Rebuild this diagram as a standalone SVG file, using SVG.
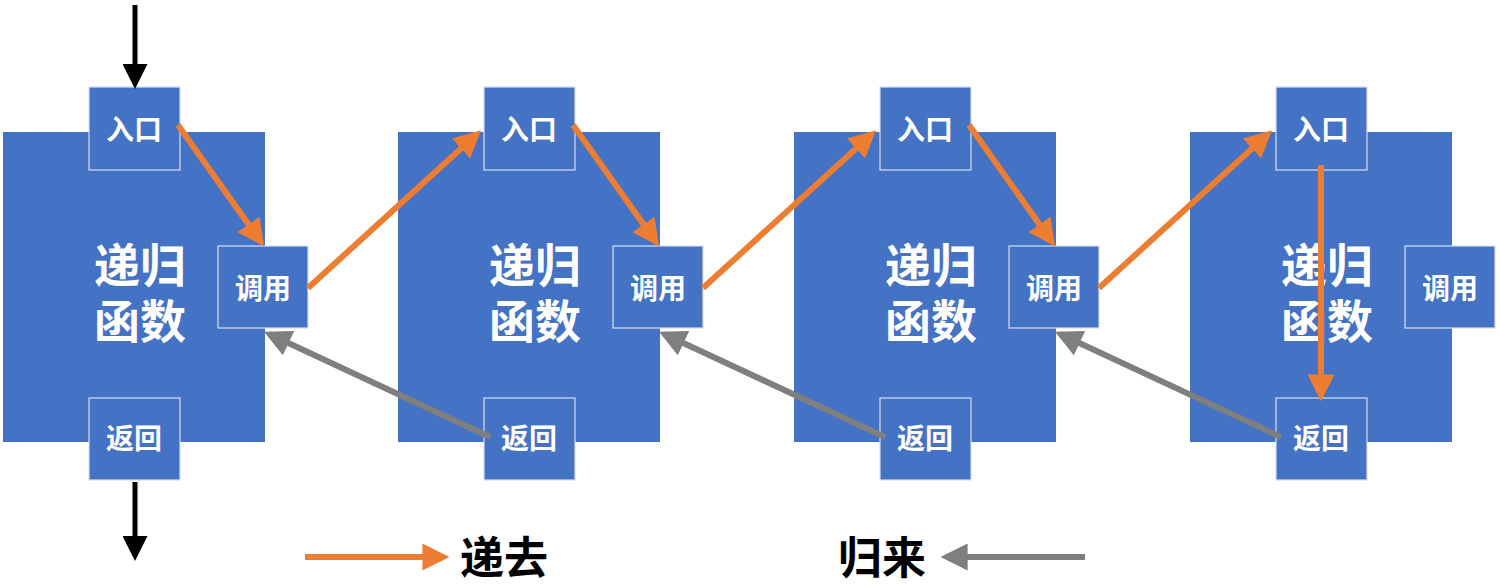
<svg xmlns="http://www.w3.org/2000/svg" width="1500" height="588" viewBox="0 0 1500 588">
<defs>
<style>
.big{fill:#4472C4}
.sm{fill:#4472C4;stroke:#D6E0F2;stroke-width:1.2}
.t{font-family:"Noto Sans CJK SC",sans-serif;font-weight:bold;fill:#fff;text-anchor:middle;dominant-baseline:central}
.s{font-size:28px}
.l{font-size:46px}
.o{stroke:#ED7D31;stroke-width:6;fill:none;marker-end:url(#ao)}
.g{stroke:#7F7F7F;stroke-width:6;fill:none;marker-end:url(#ag)}
.k{stroke:#000;stroke-width:5;fill:none;marker-end:url(#ak)}
.leg{font-family:"Noto Sans CJK SC",sans-serif;font-weight:bold;font-size:44px;fill:#000;dominant-baseline:central}
</style>
<marker id="ao" viewBox="0 0 10 10" refX="8" refY="5" markerWidth="4.5" markerHeight="4.5" orient="auto"><path d="M0,0L10,5L0,10z" fill="#ED7D31"/></marker>
<marker id="ag" viewBox="0 0 10 10" refX="8" refY="5" markerWidth="4.5" markerHeight="4.5" orient="auto"><path d="M0,0L10,5L0,10z" fill="#7F7F7F"/></marker>
<marker id="ak" viewBox="0 0 10 10" refX="8" refY="5" markerWidth="5" markerHeight="5" orient="auto"><path d="M0,0L10,5L0,10z" fill="#000"/></marker>
</defs>
<rect width="1500" height="588" fill="#fff"/>
<g id="f1" transform="translate(0,0)">
<rect class="big" x="3" y="132" width="262" height="310"/>
<text class="t l" x="140" y="262">递归</text><text class="t l" x="140" y="318">函数</text>
<rect class="sm" x="89" y="87" width="91" height="83"/><text class="t s" x="134" y="128">入口</text>
<rect class="sm" x="218" y="246" width="90" height="82"/><text class="t s" x="263" y="287">调用</text>
<rect class="sm" x="89" y="398" width="91" height="82"/><text class="t s" x="134" y="437">返回</text>
</g>
<g id="f2" transform="translate(395,0)">
<rect class="big" x="3" y="132" width="262" height="310"/>
<text class="t l" x="140" y="262">递归</text><text class="t l" x="140" y="318">函数</text>
<rect class="sm" x="89" y="87" width="91" height="83"/><text class="t s" x="134" y="128">入口</text>
<rect class="sm" x="218" y="246" width="90" height="82"/><text class="t s" x="263" y="287">调用</text>
<rect class="sm" x="89" y="398" width="91" height="82"/><text class="t s" x="134" y="437">返回</text>
</g>
<g id="f3" transform="translate(791,0)">
<rect class="big" x="3" y="132" width="262" height="310"/>
<text class="t l" x="140" y="262">递归</text><text class="t l" x="140" y="318">函数</text>
<rect class="sm" x="89" y="87" width="91" height="83"/><text class="t s" x="134" y="128">入口</text>
<rect class="sm" x="218" y="246" width="90" height="82"/><text class="t s" x="263" y="287">调用</text>
<rect class="sm" x="89" y="398" width="91" height="82"/><text class="t s" x="134" y="437">返回</text>
</g>
<g id="f4" transform="translate(1187,0)">
<rect class="big" x="3" y="132" width="262" height="310"/>
<text class="t l" x="140" y="262">递归</text><text class="t l" x="140" y="318">函数</text>
<rect class="sm" x="89" y="87" width="91" height="83"/><text class="t s" x="134" y="128">入口</text>
<rect class="sm" x="218" y="246" width="90" height="82"/><text class="t s" x="263" y="287">调用</text>
<rect class="sm" x="89" y="398" width="91" height="82"/><text class="t s" x="134" y="437">返回</text>
</g>
<g id="connectors">
<line class="k" x1="135" y1="5" x2="135" y2="84"/>
<line class="k" x1="135" y1="482" x2="135" y2="556"/>
<line class="o" x1="178" y1="125" x2="261" y2="242"/>
<line class="o" x1="308" y1="288" x2="477" y2="134"/>
<line class="g" x1="490" y1="437" x2="269" y2="334"/>
<line class="o" x1="573" y1="125" x2="656" y2="242"/>
<line class="o" x1="703" y1="288" x2="872" y2="134"/>
<line class="g" x1="885" y1="437" x2="664" y2="334"/>
<line class="o" x1="969" y1="125" x2="1052" y2="242"/>
<line class="o" x1="1099" y1="288" x2="1268" y2="134"/>
<line class="g" x1="1281" y1="437" x2="1060" y2="334"/>
<line class="o" x1="1321" y1="165" x2="1321" y2="396"/>
</g>
<g id="legend">
<line class="o" x1="305" y1="557" x2="444" y2="557"/>
<text class="leg" x="460" y="555">递去</text>
<line class="g" x1="1085" y1="557" x2="946" y2="557"/>
<text class="leg" x="838" y="555">归来</text>
</g>
</svg>
